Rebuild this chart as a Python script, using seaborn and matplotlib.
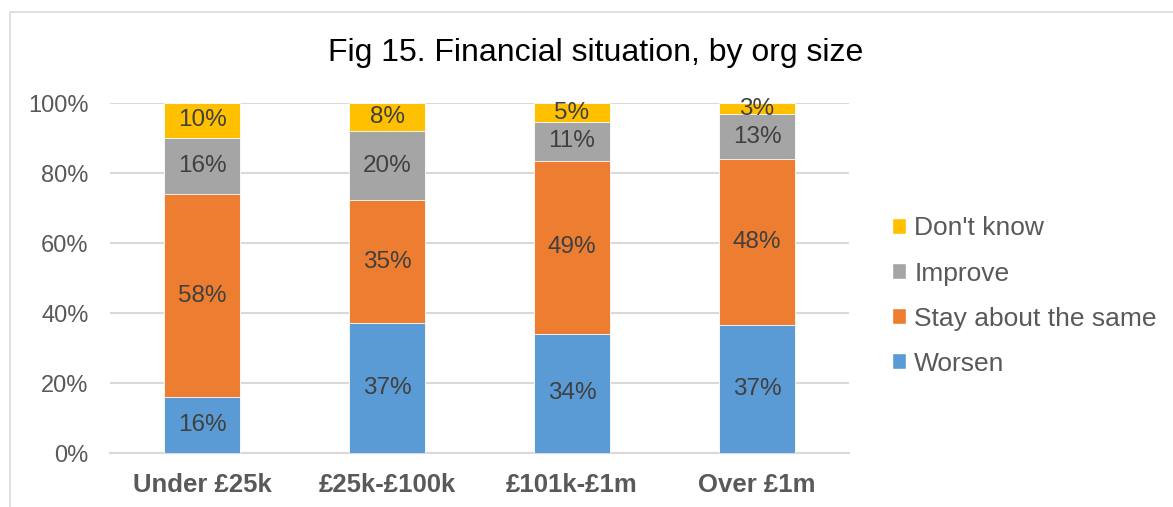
import numpy as np
import pandas as pd
import seaborn as sns
import matplotlib.pyplot as plt
from matplotlib.patches import Patch, Rectangle

sizes = ['Under £25k', '£25k-£100k', '£101k-£1m', 'Over £1m']
worsen = [16.0, 37.1, 34.2, 36.6]
stay = [58.0, 35.3, 49.4, 47.6]
improve = [16.2, 19.6, 11.1, 12.6]
dont_know = [9.8, 8.0, 5.3, 3.2]

series = ['Worsen', 'Stay about the same', 'Improve', "Don't know"]
colors = ['#5B9BD5', '#ED7D31', '#A5A5A5', '#FFC000']

df = pd.DataFrame({'size': sizes, 'Worsen': worsen, 'Stay about the same': stay,
                   'Improve': improve, "Don't know": dont_know})
cum = df[series].cumsum(axis=1)

sns.set_style('white')
plt.rcParams['font.family'] = ['Liberation Sans', 'DejaVu Sans']

fig = plt.figure(figsize=(11.73, 5.07), dpi=100)
ax = fig.add_axes([0.0934, 0.1059, 0.6308, 0.6904])

# stacked bars: draw cumulative totals from tallest down
for name, col in reversed(list(zip(series, colors))):
    sns.barplot(x=df['size'], y=cum[name], color=col, width=0.41, ax=ax,
                saturation=1, edgecolor='white', linewidth=0.6, zorder=3)

# segment labels
for i in range(len(sizes)):
    base = 0
    for name in series:
        v = df[name][i]
        ax.text(i, base + v / 2, f'{round(v)}%', ha='center', va='center',
                fontsize=17.5, color='#404040', zorder=4)
        base += v

ax.set_xlim(-0.5, 3.5)
ax.set_ylim(0, 100)
ax.set_yticks(range(0, 101, 20))
ax.set_yticklabels([f'{t}%' for t in range(0, 101, 20)])
ax.set_xlabel('')
ax.set_ylabel('')
ax.yaxis.grid(True, color='#D9D9D9', linewidth=1.5, zorder=0)
ax.set_axisbelow(True)
for s in ['top', 'right', 'left']:
    ax.spines[s].set_visible(False)
ax.spines['bottom'].set_color('#D9D9D9')
ax.spines['bottom'].set_linewidth(1.5)
ax.tick_params(axis='y', length=0, pad=15, labelsize=17, labelcolor='#595959')
ax.tick_params(axis='x', length=0, pad=14, labelsize=18.5, labelcolor='#595959')
for lbl in ax.get_xticklabels():
    lbl.set_fontweight('bold')

fig.text(0.508, 0.895, 'Fig 15. Financial situation, by org size', ha='center',
         va='center', fontsize=23, color='#000000')

handles = [Patch(facecolor=c, label=n) for n, c in zip(series, colors)][::-1]
fig.legend(handles=handles, loc='center left', bbox_to_anchor=(0.740, 0.416),
           frameon=False, fontsize=19, labelcolor='#595959', handlelength=0.55,
           handleheight=0.55, handletextpad=0.3, labelspacing=0.8)

fig.patches.append(Rectangle((10 / 1173, -0.1), 1.2, 1 - 12 / 507 + 0.1,
                             transform=fig.transFigure, fill=False,
                             edgecolor='#D9D9D9', linewidth=1.2))

fig.savefig('out.png', dpi=100)
